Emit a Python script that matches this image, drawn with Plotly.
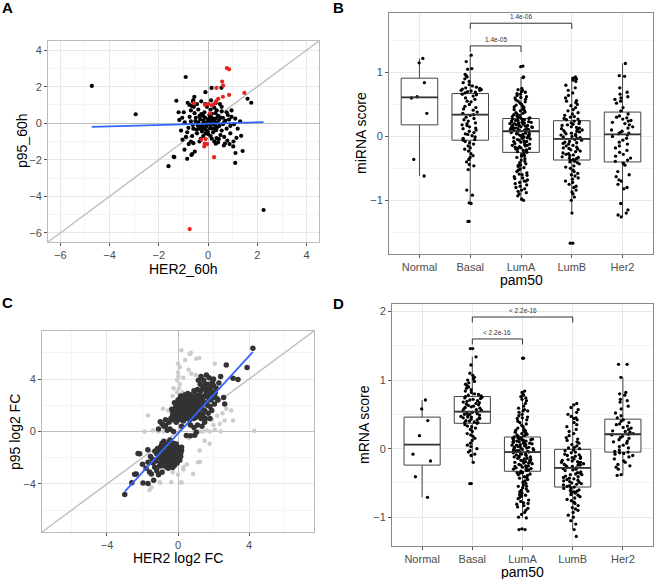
import plotly.graph_objects as go

# ---------------- Panel A data ----------------
A_black = [(-4.72, 2.04), (-2.94, 0.49), (-0.91, 2.53), (-1.29, 1.23), (-1.61, -2.35), (-1.4, -1.84),
           (-0.85, -1.95), (-0.68, -1.74), (-0.54, -1.55), (1.6, 1.34), (1.75, 1.12), (1.1, -2.17),
           (1.4, -1.52), (1.34, -0.69), (1.02, -1.27), (2.25, -4.75), (0.14, 1.93), (-0.11, 1.7),
           (-1.04, -0.9), (-0.99, 0.6), (-0.83, 1.12), (-0.6, 1.27), (-0.66, 0.94), (1.03, -1.0),
           (0.68, -1.12), (0.31, -1.12), (0.34, -0.81), (-0.56, 1.45), (-0.62, 1.18), (-0.76, 1.0),
           (0.54, 1.94), (-1.17, 0.18), (-1.37, -1.85), (-0.96, -1.45), (-0.65, -1.69), (-0.79, -1.14),
           (-0.6, -1.09), (1.11, -1.63), (0.64, -1.22), (0.43, -0.87), (0.87, -1.14),
           (-0.05, 0.05), (0.1, -0.1), (-0.2, 0.15), (0.25, 0.1), (-0.3, -0.2), (0.15, 0.3), (-0.1, -0.35),
           (0.35, -0.25), (0.05, 0.45), (-0.4, 0.05), (0.45, 0.2), (-0.25, -0.45), (0.2, -0.5), (-0.5, 0.3),
           (0.6, -0.05), (-0.15, 0.6), (0.3, 0.55), (-0.6, -0.3), (0.55, -0.4), (0.0, -0.6), (-0.35, 0.4),
           (0.4, 0.4), (-0.45, -0.55), (0.7, 0.15), (-0.7, 0.1), (0.1, 0.75), (-0.2, -0.7), (0.5, -0.65),
           (-0.55, 0.55), (0.75, -0.3), (0.02, 0.22), (-0.08, -0.18), (0.18, -0.02), (-0.22, -0.05),
           (0.12, 0.12), (-0.12, 0.3), (0.28, -0.12), (-0.32, 0.22), (0.08, -0.28), (-0.02, -0.45),
           (0.38, 0.05), (-0.42, -0.12), (0.22, 0.22), (-0.18, -0.25), (0.32, -0.38), (-0.28, 0.5),
           (0.48, 0.32), (-0.48, -0.35), (0.6, 0.3), (-0.62, -0.1), (0.85, 0.2), (-0.8, -0.25), (0.9, -0.15),
           (-0.75, 0.35), (0.8, 0.45), (-0.85, -0.5), (0.65, -0.75), (-0.65, -0.7), (0.95, 0.35),
           (-0.95, 0.05), (0.15, -0.85), (-0.3, -0.85), (0.42, -0.88), (-0.05, 0.9), (0.25, 0.85),
           (-0.4, 0.75), (0.55, 0.65), (-0.7, 0.7), (1.05, -0.05), (1.1, 0.25), (1.2, -0.3), (-1.1, -0.4),
           (-1.05, 0.3), (0.05, 0.0), (-0.05, -0.08), (0.08, 0.35), (-0.15, 0.02), (0.2, -0.3),
           (-0.25, -0.3), (0.3, 0.25), (0.0, 0.15), (-0.1, -0.55), (0.45, -0.15), (-0.38, -0.3),
           (0.15, 0.52), (-0.52, 0.12), (0.65, 0.05), (0.35, 0.7), (-0.2, 0.4), (0.1, -0.7), (0.9, -0.55),
           (-0.9, -0.75), (1.3, 0.1), (0.75, 0.6), (-0.35, -1.0), (0.25, -1.0), (0.55, 0.9), (-0.12, 1.05),
           (0.3, 1.1), (0.4, -1.05), (1.15, -0.8), (0.78, -0.95), (-0.58, 0.9), (-1.2, 0.6), (0.95, 0.7),
           (-0.7, -1.0), (0.12, 1.25), (-0.28, 1.2), (0.48, 1.05), (-0.45, 1.05)]
A_red = [(-0.75, -5.79), (0.76, 3.02), (0.85, 2.95), (0.57, 2.28), (0.61, 2.06), (0.34, 1.93),
         (0.85, 1.55), (0.6, 1.45), (0.34, 1.23), (0.41, 1.34), (0.27, 1.08), (1.47, 1.66), (-0.57, 1.1),
         (-0.12, 1.0), (0.01, 1.05), (0.15, 0.99), (0.08, 0.54), (-0.28, -0.9), (-0.14, -1.12),
         (-0.1, -0.87), (-0.04, -1.14), (-0.16, -1.27), (0.24, -1.86)]
A_fit = (0.037, -0.02)  # slope, intercept of the blue regression line

# ---------------- Panel C data ----------------
C_black = [(-0.3, 1.2), (-0.2, 1.6), (-0.1, 2.0), (0.0, 1.3), (0.1, 1.7), (0.2, 2.2), (0.3, 1.4), (0.4, 1.9),
           (0.5, 2.5), (0.6, 1.2), (0.7, 1.6), (0.8, 2.1), (0.9, 1.0), (1.0, 1.5), (1.1, 2.0), (1.2, 1.3),
           (0.0, 2.4), (0.15, 2.7), (0.35, 2.6), (0.55, 2.9), (-0.15, 1.0), (0.05, 0.9), (0.25, 1.1),
           (0.45, 1.0), (0.65, 0.9), (0.85, 1.3), (1.05, 1.1), (1.25, 1.7), (-0.25, 1.4), (-0.05, 1.8),
           (0.15, 1.4), (0.35, 1.6), (0.55, 1.8), (0.75, 2.4), (0.95, 1.8), (1.15, 2.4), (-0.35, 1.7),
           (0.1, 2.1), (0.3, 2.0), (0.5, 1.5), (0.7, 2.0), (0.9, 2.6), (-0.1, 1.25), (0.2, 1.0), (0.4, 1.25),
           (0.6, 1.5), (0.8, 1.1), (1.0, 2.3), (0.0, 1.55), (0.25, 1.85), (0.45, 2.2), (0.65, 2.6),
           (0.85, 1.6), (1.05, 1.35), (-0.2, 2.2), (0.1, 2.5), (0.4, 2.8), (0.7, 2.8), (-0.4, 1.0), (1.3, 1.0),
           (-0.3, 0.9), (-0.1, 0.7), (0.1, 1.15), (0.3, 0.8), (0.5, 1.1), (0.7, 1.3), (0.9, 1.45), (1.1, 1.7),
           (1.2, 1.9), (1.0, 1.9), (0.8, 1.8), (0.6, 2.2), (0.4, 2.4), (0.2, 2.4), (0.0, 2.1), (-0.15, 1.8),
           (-0.3, 1.5), (0.05, 1.15), (0.35, 1.15), (0.55, 1.35), (0.75, 1.45), (0.95, 1.25), (1.15, 1.55),
           (1.3, 2.0), (1.4, 2.2), (1.5, 2.7), (1.6, 3.0), (1.7, 2.6), (1.8, 3.2), (1.55, 3.6), (1.4, 3.4),
           (1.2, 2.5), (1.0, 2.05), (0.85, 2.3), (0.6, 2.45), (0.3, 2.3), (0.15, 1.95), (-0.05, 1.45),
           (0.25, 1.6), (0.45, 1.7), (0.65, 1.75), (0.75, 1.2), (0.55, 1.05), (0.2, 1.25), (0.95, 2.1),
           (1.1, 2.6), (1.3, 2.7), (1.65, 3.2), (1.9, 3.0), (2.0, 3.5), (2.3, 3.7), (2.4, 4.2), (0.45, 2.6),
           (0.25, 2.55),
           (1.2, 2.8), (1.3, 3.1), (1.4, 2.5), (1.5, 3.3), (1.6, 2.2), (1.7, 3.6), (1.8, 2.9), (1.9, 3.4),
           (2.0, 4.0), (2.1, 3.0), (1.1, 3.2), (1.25, 3.6), (1.45, 3.9), (1.6, 4.3), (1.75, 4.1), (1.85, 2.4),
           (2.0, 2.6), (2.15, 3.3), (1.35, 1.8), (1.5, 1.6), (1.65, 2.0), (1.4, 1.3), (1.55, 1.0), (1.7, 1.4),
           (1.8, 1.9), (1.9, 1.6), (2.05, 2.1), (2.2, 2.5), (1.2, 2.2), (1.0, 2.8), (0.9, 3.1), (1.3, 4.2),
           (1.15, 3.9), (1.95, 3.8), (1.5, 0.7), (1.35, 0.4), (1.1, 0.5), (1.8, 1.0),
           (2.72, 5.07), (3.38, 3.97), (3.1, 4.05), (3.89, 4.87), (4.22, 6.35), (2.57, 2.6), (2.07, 2.7),
           (2.25, 2.4), (2.63, 2.1),
           (-1.0, 0.75), (-0.7, 0.45), (-0.45, 0.2), (-0.25, 0.0), (-0.6, 0.1), (-0.8, 0.4), (-0.9, 0.6),
           (-1.1, 0.2), (-0.5, 0.7), (-0.7, 0.9), (0.47, -0.3), (1.03, -0.05), (0.2, 0.4), (0.7, 0.5),
           (0.9, 0.3), (0.94, -0.28), (0.7, -0.33),
           (-0.6, -1.7), (-0.4, -1.5), (-0.8, -1.9), (-0.5, -2.1), (-0.3, -1.9), (-0.7, -1.3), (-0.2, -1.4),
           (-0.9, -2.3), (-0.6, -2.5), (-0.35, -2.4), (-0.1, -1.7), (0.0, -1.2), (-1.0, -1.6), (-0.75, -1.0),
           (-0.45, -1.1), (-0.15, -2.1), (-0.55, -2.8), (-0.85, -2.6), (-1.1, -2.0), (-0.25, -0.9),
           (0.1, -1.5), (-0.05, -2.4), (-0.65, -2.0), (-0.4, -1.8), (-0.2, -2.6), (-1.15, -1.3),
           (-0.95, -1.1), (-0.5, -0.8), (0.15, -1.9), (-0.3, -1.2), (-0.7, -1.6), (-0.55, -1.4),
           (-0.85, -1.45), (-0.35, -1.6), (-0.15, -1.15), (0.05, -1.85), (-0.45, -2.25), (-0.75, -2.2),
           (-1.0, -2.4), (-0.6, -1.15), (-0.25, -2.2), (-0.1, -0.95), (-0.9, -0.9), (-0.65, -2.7),
           (-0.3, -2.75), (-1.2, -1.7), (0.2, -1.2), (-0.45, -0.65), (-0.8, -0.75), (0.0, -2.1),
           (-0.5, -1.95), (-0.7, -1.8), (-0.2, -1.75), (-0.4, -2.55), (-0.95, -1.9), (-1.05, -2.65),
           (-0.15, -1.55), (-0.6, -2.3), (-0.35, -1.35), (0.1, -2.2),
           (-0.5, -1.25), (-0.3, -1.05), (-0.1, -1.3), (0.05, -1.6), (-0.2, -1.9), (-0.4, -2.0), (-0.6, -1.9),
           (-0.8, -1.7), (-0.9, -2.05), (-0.75, -2.45), (-0.5, -2.4), (-0.3, -2.5), (-0.1, -2.2), (0.05, -2.0),
           (-0.15, -1.85), (-0.35, -1.75), (-0.55, -1.55), (-0.75, -1.4), (-0.95, -1.3), (-0.85, -2.2),
           (-0.65, -2.25), (-0.45, -2.6), (-0.25, -2.35), (-0.05, -1.45), (-0.45, -1.35), (-0.65, -1.05),
           (-0.25, -1.65), (-0.5, -2.65), (-0.7, -2.55), (-0.9, -2.45), (-1.1, -1.8), (-1.05, -1.45),
           (0.15, -1.65), (0.2, -1.45),
           (-3.0, -4.8), (-2.44, -3.26), (-1.97, -3.92), (-2.25, -1.68), (-1.6, -3.08), (-1.69, -3.97),
           (-1.37, -3.72), (-2.16, -1.7), (-2.35, -3.24), (-1.5, -3.24), (-1.31, -2.73), (-1.69, -2.34),
           (-1.4, -2.4), (-1.2, -3.0), (-1.8, -2.8), (-1.55, -1.9), (-1.3, -1.5), (-1.45, -2.1),
           (-1.1, -3.3), (-0.9, -3.1), (-1.25, -2.25), (-2.0, -2.5), (-2.6, -3.9), (-1.7, -1.4)]
C_gray = [(0.73, 6.0), (0.4, 5.45), (0.19, 6.2), (0.66, 5.9), (1.03, 5.55), (0.0, 5.17), (2.07, 5.17),
          (1.2, 5.6), (0.75, 4.4), (0.1, 4.9), (0.02, 4.2), (-0.05, 3.9), (0.1, 3.6), (0.05, 3.3),
          (-0.05, 3.0), (0.12, 2.7), (0.0, 4.5), (0.3, 4.1), (0.6, 4.7), (1.0, 4.3), (-0.85, 1.73),
          (-1.69, 1.22), (-0.56, 1.6), (-0.38, 1.35), (-0.19, 0.97), (0.28, 1.86), (-1.88, 0.0),
          (-1.41, 0.08), (-1.1, 0.0), (-0.8, 0.0), (0.94, 0.08), (1.2, 0.0), (1.4, 0.0), (1.6, 0.08),
          (1.8, 0.0), (2.07, 0.13), (2.4, 0.0), (2.63, 0.84), (3.1, 0.84), (2.72, 1.73), (3.0, 1.6),
          (2.35, 0.59), (2.0, 0.5), (1.78, -0.94), (1.22, -1.45), (1.13, -2.34), (0.85, -3.24),
          (0.19, -3.87), (-0.38, -3.87), (-1.03, -3.87), (-1.5, -4.25), (-0.85, -2.98), (4.3, 0.05),
          (1.24, -2.3), (0.2, -3.9), (-1.0, -3.9), (-1.6, -4.45), (2.2, 1.2), (2.5, 1.4), (1.9, 0.9),
          (0.3, -2.9), (0.5, -2.5), (0.3, -2.7), (-0.3, -3.1), (0.0, -3.3), (0.6, -0.5), (-0.3, 2.7),
          (-0.25, 3.3), (0.25, 3.0), (1.5, -0.7)]
C_fit = (1.475, -0.15)

# ---------------- Panels B / D data ----------------
categories = ["Normal", "Basal", "LumA", "LumB", "Her2"]

B_values = {
    "Normal": [1.22, 1.15, 0.84, 0.62, 0.60, 0.36, -0.36, -0.62],
    "Basal": [1.27, 1.17, 1.06, 1.05, 0.97, 0.95, 0.93, 0.9, 0.86, 0.84, 0.81, 0.79, 0.77, 0.76, 0.75, 0.74,
              0.73, 0.72, 0.72, 0.71, 0.7, 0.69, 0.68, 0.66, 0.65, 0.63, 0.6, 0.58, 0.55, 0.54, 0.5, 0.47,
              0.45, 0.43, 0.41, 0.38, 0.36, 0.34, 0.33, 0.3, 0.28, 0.26, 0.24, 0.21, 0.2, 0.18, 0.17, 0.15,
              0.13, 0.12, 0.1, 0.08, 0.06, 0.04, 0.03, 0.01, -0.01, -0.03, -0.05, -0.06, -0.08, -0.1, -0.12,
              -0.15, -0.18, -0.2, -0.23, -0.27, -0.3, -0.33, -0.36, -0.4, -0.44, -0.46, -0.52, -0.84, -0.92,
              -1.04, -1.05, -1.33, -1.33],
    "LumA": [1.1, 1.09, 0.93, 0.92, 0.75, 0.73, 0.72, 0.7, 0.69, 0.67, 0.66, 0.64, 0.62, 0.61, 0.6, 0.58, 0.57,
             0.55, 0.54, 0.52, 0.5, 0.49, 0.47, 0.46, 0.45, 0.43, 0.42, 0.41, 0.4, 0.38, 0.37, 0.36, 0.35, 0.34,
             0.33, 0.32, 0.31, 0.3, 0.29, 0.29, 0.28, 0.27, 0.27, 0.26, 0.25, 0.25, 0.24, 0.23, 0.23, 0.22,
             0.21, 0.21, 0.2, 0.19, 0.19, 0.18, 0.17, 0.17, 0.16, 0.15, 0.15, 0.14, 0.14, 0.13, 0.12, 0.12,
             0.11, 0.1, 0.1, 0.09, 0.09, 0.08, 0.08, 0.22, 0.18, 0.16, 0.13, 0.11, 0.2, 0.24, 0.07, 0.06, 0.05,
             0.04, 0.03, 0.02, 0.01, 0.0, -0.01, -0.02, -0.03, -0.04, -0.05, -0.06, -0.07, -0.08, -0.09, -0.1,
             -0.11, -0.12, -0.13, -0.14, -0.15, -0.16, -0.17, -0.18, -0.19, -0.2, -0.21, -0.22, -0.23, -0.24,
             -0.25, 0.05, -0.02, -0.08, -0.14, 0.0, -0.19, 0.03, -0.27, -0.29, -0.31, -0.33, -0.35, -0.37,
             -0.39, -0.41, -0.43, -0.45, -0.47, -0.49, -0.51, -0.53, -0.55, -0.57, -0.59, -0.61, -0.63, -0.65,
             -0.66, -0.68, -0.7, -0.72, -0.74, -0.76, -0.78, -0.8, -0.82, -0.84, -0.86, -0.88, -0.9, -0.93,
             -0.98, -1.0, -0.3, -0.45, -0.6, -0.7],
    "LumB": [0.93, 0.91, 0.9, 0.88, 0.86, 0.8, 0.76, 0.72, 0.68, 0.64, 0.6, 0.56, 0.53, 0.5, 0.48, 0.45, 0.42,
             0.4, 0.37, 0.35, 0.33, 0.31, 0.3, 0.28, 0.27, 0.26, 0.55, 0.24, 0.23, 0.21, 0.2, 0.18, 0.17, 0.15,
             0.14, 0.12, 0.11, 0.1, 0.08, 0.07, 0.06, 0.05, 0.04, 0.03, 0.02, 0.01, 0.0, -0.01, -0.02, -0.03,
             0.19, 0.13, 0.09, -0.03, -0.05, -0.06, -0.08, -0.09, -0.11, -0.12, -0.14, -0.15, -0.17, -0.18,
             -0.2, -0.21, -0.23, -0.24, -0.26, -0.27, -0.29, -0.3, -0.32, -0.33, -0.35, -0.36, -0.37, -0.1,
             -0.19, -0.28, -0.34, -0.39, -0.41, -0.43, -0.46, -0.48, -0.5, -0.53, -0.55, -0.58, -0.6, -0.62,
             -0.65, -0.67, -0.7, -0.72, -0.75, -0.78, -0.8, -0.84, -0.87, -0.9, -0.95, -1.0, -1.2, -1.67,
             -1.67, -0.4],
    "Her2": [1.14, 0.95, 0.94, 0.76, 0.69, 0.66, 0.62, 0.6, 0.58, 0.55, 0.52, 0.45, 0.4, 0.35, 0.32, 0.3, 0.29,
             0.27, 0.25, 0.22, 0.2, 0.18, 0.15, 0.13, 0.1, 0.08, 0.06, 0.05, 0.04, 0.24, 0.02, 0.0, -0.03,
             -0.06, -0.09, -0.12, -0.15, -0.18, -0.22, -0.25, -0.28, -0.31, -0.34, -0.37, -0.39, -0.42, -0.45,
             -0.55, -0.6, -0.63, -0.68, -0.7, -0.75, -0.8, -0.82, -1.05, -1.15, -1.2, -1.23, -1.26],
}
B_q1 = [0.18, -0.06, -0.25, -0.37, -0.40]
B_med = [0.61, 0.34, 0.08, -0.04, 0.03]
B_q3 = [0.91, 0.67, 0.28, 0.245, 0.38]
B_lo = [-0.62, -1.05, -1.01, -1.2, -1.26]
B_hi = [1.22, 1.27, 0.93, 0.93, 1.14]
B_brackets = [("Basal", "LumA", 1.415, 1.32, "1.4e-05"), ("Basal", "LumB", 1.77, 1.68, "1.4e-06")]

D_values = {
    "Normal": [0.71, 0.58, 0.41, 0.19, -0.08, -0.18, -0.41, -0.71],
    "Basal": [1.46, 1.46, 1.34, 1.22, 1.1, 1.07, 1.04, 1.02, 1.0, 0.98, 0.96, 0.94, 0.92, 0.9, 0.88, 0.86, 0.84,
              0.82, 0.8, 0.79, 0.78, 0.77, 0.76, 0.75, 0.74, 0.73, 0.72, 0.71, 0.7, 0.69, 0.68, 0.67, 0.66,
              0.65, 0.64, 0.63, 0.62, 0.61, 0.6, 0.59, 0.58, 0.57, 0.56, 0.55, 0.54, 0.53, 0.52, 0.51, 0.5,
              0.49, 0.48, 0.47, 0.46, 0.45, 0.45, 0.44, 0.43, 0.42, 0.41, 0.4, 0.39, 0.38, 0.38, 0.37, 0.5,
              0.46, 0.35, 0.33, 0.3, 0.28, 0.25, 0.22, 0.2, 0.18, 0.15, 0.12, 0.08, 0.05, 0.03, 0.0, -0.03,
              -0.05, -0.08, -0.1, -0.2, -0.51, -0.51, 0.32],
    "LumA": [1.32, 1.32, 0.84, 0.82, 0.8, 0.78, 0.76, 0.74, 0.72, 0.7, 0.66, 0.62, 0.59, 0.57, 0.55, 0.53, 0.5,
             0.48, 0.46, 0.44, 0.42, 0.4, 0.38, 0.36, 0.34, 0.32, 0.3, 0.28, 0.27, 0.26, 0.25, 0.24, 0.23, 0.22,
             0.21, 0.2, 0.19, 0.18, 0.55, 0.45, 0.17, 0.16, 0.16, 0.15, 0.14, 0.14, 0.13, 0.12, 0.12, 0.11, 0.1,
             0.1, 0.09, 0.08, 0.08, 0.07, 0.06, 0.06, 0.05, 0.04, 0.04, 0.03, 0.02, 0.02, 0.01, 0.0, 0.0,
             -0.01, -0.02, -0.02, -0.03, -0.04, -0.04, -0.05, 0.13, 0.09, 0.05, 0.01, -0.03, 0.11, -0.06,
             -0.07, -0.08, -0.09, -0.1, -0.11, -0.12, -0.13, -0.14, -0.15, -0.16, -0.17, -0.18, -0.19, -0.2,
             -0.21, -0.22, -0.23, -0.24, -0.25, -0.26, -0.27, -0.28, -0.29, -0.3, -0.31, -0.32, -0.33, -0.08,
             -0.12, -0.17, -0.21, -0.25, -0.3, -0.35, -0.38, -0.14, -0.19, -0.27, -0.36, -0.35, -0.37, -0.39,
             -0.41, -0.43, -0.45, -0.47, -0.49, -0.51, -0.53, -0.55, -0.57, -0.59, -0.61, -0.63, -0.65, -0.67,
             -0.69, -0.71, -0.73, -0.75, -0.77, -0.79, -0.81, -0.83, -0.85, -0.87, -0.9, -0.93, -0.96, -1.0,
             -1.01, -1.18, -1.18, -1.17, -0.42, -0.55, -0.68, -0.8, -0.62],
    "LumB": [0.66, 0.64, 0.6, 0.57, 0.53, 0.5, 0.47, 0.44, 0.42, 0.38, 0.35, 0.32, 0.28, 0.25, 0.22, 0.19, 0.16,
             0.14, 0.12, 0.1, 0.08, 0.06, 0.04, 0.02, 0.01, 0.0, 0.45, -0.02, -0.03, -0.05, -0.06, -0.08,
             -0.09, -0.1, -0.12, -0.13, -0.14, -0.16, -0.17, -0.18, -0.19, -0.2, -0.21, -0.22, -0.23, -0.24,
             -0.25, -0.26, -0.27, -0.28, -0.11, -0.15, -0.2, -0.24, -0.29, -0.3, -0.31, -0.32, -0.34, -0.35,
             -0.36, -0.37, -0.38, -0.4, -0.41, -0.42, -0.43, -0.44, -0.45, -0.47, -0.48, -0.49, -0.5, -0.51,
             -0.52, -0.53, -0.54, -0.55, -0.56, -0.38, -0.46, -0.57, -0.58, -0.6, -0.61, -0.62, -0.64, -0.65,
             -0.67, -0.68, -0.7, -0.72, -0.74, -0.76, -0.78, -0.8, -0.83, -0.86, -0.88, -0.9, -0.93, -0.97,
             -1.0, -1.05, -1.1, -1.18, -1.28, -0.63],
    "Her2": [1.23, 1.23, 1.04, 0.82, 0.8, 0.78, 0.72, 0.7, 0.68, 0.62, 0.58, 0.52, 0.48, 0.45, 0.42, 0.4, 0.38,
             0.36, 0.35, 0.33, 0.31, 0.3, 0.28, 0.26, 0.25, 0.24, 0.22, 0.21, 0.2, 0.18, 0.16, 0.15, 0.13,
             0.11, 0.1, 0.08, 0.05, 0.03, 0.01, -0.02, -0.04, -0.05, -0.06, -0.07, -0.08, -0.1, -0.12, -0.15,
             -0.18, -0.2, -0.23, -0.25, -0.27, -0.3, -0.38, -0.39],
}
D_q1 = [-0.24, 0.37, -0.33, -0.56, -0.05]
D_med = [0.06, 0.54, -0.05, -0.28, 0.21]
D_q3 = [0.46, 0.76, 0.17, -0.01, 0.43]
D_lo = [-0.71, -0.2, -1.01, -1.18, -0.39]
D_hi = [0.71, 1.34, 0.84, 0.66, 1.04]
D_brackets = [("Basal", "LumA", 1.60, 1.52, "< 2.2e-16"), ("Basal", "LumB", 1.92, 1.84, "< 2.2e-16")]

# ---------------- styling constants ----------------
W, H = 657, 579
FONT = "Liberation Sans, Arial, sans-serif"
TICKC = "#4d4d4d"
GRID = "#e8e8e8"
GRIDMINOR = "#f4f4f4"
BLUE = "#3366FF"
REFGRAY = "#bdbdbd"


def px_dom(a, b, total, flip=False):
    if flip:
        return [1 - b / total, 1 - a / total]
    return [a / total, b / total]


fig = go.Figure()

# ---- Panel A ----
A_range = [-6.5, 4.5]
fig.add_trace(go.Scatter(x=A_range, y=A_range, mode="lines", line=dict(color=REFGRAY, width=1.4),
                         xaxis="x", yaxis="y", hoverinfo="skip"))
fig.add_trace(go.Scatter(x=[p[0] for p in A_black], y=[p[1] for p in A_black], mode="markers",
                         marker=dict(color="black", size=4.2), xaxis="x", yaxis="y"))
fig.add_trace(go.Scatter(x=[p[0] for p in A_red], y=[p[1] for p in A_red], mode="markers",
                         marker=dict(color="#e8231f", size=4.2), xaxis="x", yaxis="y"))
A_allx = [p[0] for p in A_black + A_red]
A_lx = [min(A_allx), max(A_allx)]
fig.add_trace(go.Scatter(x=A_lx, y=[A_fit[0] * v + A_fit[1] for v in A_lx], mode="lines",
                         line=dict(color=BLUE, width=1.8), xaxis="x", yaxis="y"))

# ---- Panel C ----
C_range = [-7.66, 7.66]
fig.add_trace(go.Scatter(x=C_range, y=C_range, mode="lines", line=dict(color=REFGRAY, width=1.4),
                         xaxis="x3", yaxis="y3", hoverinfo="skip"))
fig.add_trace(go.Scatter(x=[p[0] for p in C_gray], y=[p[1] for p in C_gray], mode="markers",
                         marker=dict(color="#cccccc", size=4.5), xaxis="x3", yaxis="y3"))
fig.add_trace(go.Scatter(x=[p[0] for p in C_black], y=[p[1] for p in C_black], mode="markers",
                         marker=dict(color="#333333", size=5.5), xaxis="x3", yaxis="y3"))
C_bx = [p[0] for p in C_black]
C_lx = [min(C_bx), max(C_bx)]
fig.add_trace(go.Scatter(x=C_lx, y=[C_fit[0] * v + C_fit[1] for v in C_lx], mode="lines",
                         line=dict(color=BLUE, width=1.8), xaxis="x3", yaxis="y3"))

# ---- Box panels ----
shapes = []
annotations = []
BOXW = 0.72


def add_box_panel(xa, ya, values, q1, med, q3, lo, hi, brackets):
    fig.add_trace(go.Box(x=categories, q1=q1, median=med, q3=q3, lowerfence=lo, upperfence=hi,
                         boxpoints=False, fillcolor="white", line=dict(color="#444444", width=1),
                         whiskerwidth=0, width=BOXW, xaxis=xa, yaxis=ya))
    for i, m in enumerate(med):
        shapes.append(dict(type="line", xref=xa, yref=ya, x0=i - BOXW / 2, x1=i + BOXW / 2, y0=m, y1=m,
                           line=dict(color="#333333", width=1.8)))
    xs, ys = [], []
    for c in categories:
        xs += [c] * len(values[c])
        ys += values[c]
    fig.add_trace(go.Box(x=xs, y=ys, boxpoints="all", jitter=1, pointpos=0, width=0.46,
                         fillcolor="rgba(0,0,0,0)", line=dict(color="rgba(0,0,0,0)", width=0),
                         marker=dict(color="black", size=3.3, line=dict(width=0)),
                         whiskerwidth=0, xaxis=xa, yaxis=ya))
    for (c1, c2, ytop, ybot, label) in brackets:
        i1, i2 = categories.index(c1), categories.index(c2)
        shapes.append(dict(type="path", xref=xa, yref=ya,
                           path=f"M {i1} {ybot} L {i1} {ytop} L {i2} {ytop} L {i2} {ybot}",
                           line=dict(color="#333333", width=1)))
        annotations.append(dict(xref=xa, yref=ya, x=(i1 + i2) / 2, y=ytop, text=label, showarrow=False,
                                yanchor="bottom", yshift=1, font=dict(size=6.5, color="#333333", family=FONT)))


add_box_panel("x2", "y2", B_values, B_q1, B_med, B_q3, B_lo, B_hi, B_brackets)
add_box_panel("x4", "y4", D_values, D_q1, D_med, D_q3, D_lo, D_hi, D_brackets)

# ---- axes ----
tickfont = dict(family=FONT, size=11, color=TICKC)


def num_axis(domain, rng, dtick, minor_dtick, anchor, linecolor, zero=False):
    return dict(domain=domain, range=rng, dtick=dtick, tick0=0, anchor=anchor, automargin=False,
                showgrid=True, gridcolor=GRID, gridwidth=1,
                minor=dict(dtick=minor_dtick, tick0=0, showgrid=True, gridcolor=GRIDMINOR, gridwidth=0.6),
                zeroline=zero, zerolinecolor=REFGRAY, zerolinewidth=1.4,
                showline=True, mirror=True, linecolor=linecolor, linewidth=1,
                ticks="outside", ticklen=3, tickcolor="#555555", tickfont=tickfont, fixedrange=True)


def cat_axis(domain, anchor, linecolor):
    return dict(domain=domain, type="category", categoryorder="array", categoryarray=categories,
                range=[-0.6, 4.6], anchor=anchor, automargin=False, showgrid=True, gridcolor=GRID, gridwidth=1,
                showline=True, mirror=True, linecolor=linecolor, linewidth=1,
                ticks="outside", ticklen=3, tickcolor="#555555", tickfont=tickfont, fixedrange=True)


fig.update_layout(
    width=W, height=H, autosize=False, margin=dict(l=0, r=0, t=0, b=0, autoexpand=False),
    paper_bgcolor="white", plot_bgcolor="white", showlegend=False, boxmode="overlay",
    hovermode=False, font=dict(family=FONT),
    xaxis=num_axis(px_dom(48, 319, W), A_range, 2, 1, "y", "#bbbbbb", True),
    yaxis=num_axis(px_dom(41, 242, H, True), A_range, 2, 1, "x", "#bbbbbb", True),
    xaxis3=num_axis(px_dom(42, 314, W), C_range, 4, 2, "y3", "#bbbbbb", True),
    yaxis3=num_axis(px_dom(331, 532, H, True), C_range, 4, 2, "x3", "#bbbbbb", True),
    xaxis2=cat_axis(px_dom(389, 653, W), "y2", "#888888"),
    yaxis2=num_axis(px_dom(13, 254, H, True), [-1.84, 1.93], 1, 0.5, "x2", "#888888"),
    xaxis4=cat_axis(px_dom(392, 653, W), "y4", "#888888"),
    yaxis4=num_axis(px_dom(304, 546, H, True), [-1.42, 2.11], 1, 0.5, "x4", "#888888"),
)


def paper_text(text, px, py, size=14, angle=0, bold=False):
    annotations.append(dict(xref="paper", yref="paper", x=px / W, y=1 - py / H, text=f"<b>{text}</b>" if bold else text,
                            showarrow=False, xanchor="center", yanchor="middle", textangle=angle,
                            font=dict(family=FONT, size=size, color="black")))


paper_text("HER2_60h", 183, 269)
paper_text("p95_60h", 22, 141, angle=-90)
paper_text("pam50", 521, 280)
paper_text("miRNA score", 361, 133, angle=-90)
paper_text("HER2 log2 FC", 178, 558)
paper_text("p95 log2 FC", 15, 432, angle=-90)
paper_text("pam50", 522, 572)
paper_text("mRNA score", 364, 425, angle=-90)
paper_text("A", 7, 8, size=15, bold=True)
paper_text("B", 338, 8, size=15, bold=True)
paper_text("C", 7, 302, size=15, bold=True)
paper_text("D", 338, 303, size=15, bold=True)

fig.update_layout(shapes=shapes, annotations=annotations)
fig.write_html("out.html", config={"displayModeBar": False},
               post_script="document.body.style.margin='0';document.body.style.overflow='hidden';")
